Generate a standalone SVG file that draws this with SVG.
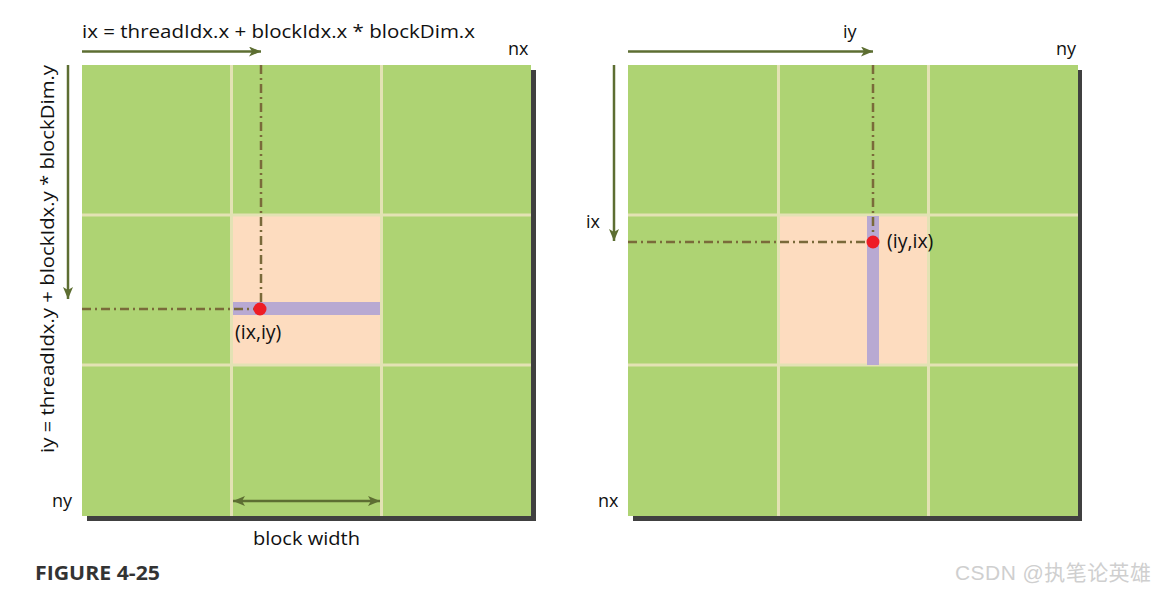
<svg xmlns="http://www.w3.org/2000/svg" width="1155" height="592" viewBox="0 0 1155 592">
<defs>
<marker id="ah" viewBox="0 0 12 10" refX="12" refY="5" markerWidth="12" markerHeight="10" markerUnits="userSpaceOnUse" orient="auto-start-reverse">
<path d="M0,0 L12,5 L0,10 L3,5 Z" fill="#5d6e32"/>
</marker>
<style>
.t{font-family:"Open Sans","Noto Sans",sans-serif;font-size:18px;fill:#111}
.pt{font-size:19.5px}
.cell{fill:#aed373}
.shadow{fill:#404040}
.gl{stroke:#e3e2b4;stroke-width:3}
.hl{fill:#fddcbf}
.bar{fill:#b8a9d2}
.dot{fill:#ee1c25}
.arr{stroke:#5d6e32;stroke-width:2.5;fill:none}
.dd{stroke:#7a6a3a;stroke-width:2.5;fill:none;stroke-dasharray:9 4 2 4}
</style>
</defs>
<rect width="1155" height="592" fill="#fff"/>

<g id="grid-left">
<rect class="shadow" x="87" y="70" width="449" height="451"/>
<rect class="cell" x="82" y="65" width="449" height="451"/>
<rect class="hl" x="233" y="216" width="148" height="149"/>
<line class="gl" x1="231.5" y1="65" x2="231.5" y2="516"/>
<line class="gl" x1="381.5" y1="65" x2="381.5" y2="516"/>
<line class="gl" x1="82" y1="215" x2="531" y2="215"/>
<line class="gl" x1="82" y1="365" x2="531" y2="365"/>
<rect class="bar" x="233" y="302" width="147" height="13"/>
</g>

<g id="grid-right">
<rect class="shadow" x="633" y="70" width="449" height="451"/>
<rect class="cell" x="628" y="65" width="450" height="451"/>
<rect class="hl" x="779" y="216" width="149" height="149"/>
<line class="gl" x1="778.5" y1="65" x2="778.5" y2="516"/>
<line class="gl" x1="928.5" y1="65" x2="928.5" y2="516"/>
<line class="gl" x1="628" y1="215" x2="1078" y2="215"/>
<line class="gl" x1="628" y1="365" x2="1078" y2="365"/>
<rect class="bar" x="867" y="216" width="12" height="149"/>
</g>

<g id="connectors">
<line class="arr" x1="82" y1="51.5" x2="261" y2="51.5" marker-end="url(#ah)"/>
<line class="arr" x1="68" y1="65" x2="68" y2="299" marker-end="url(#ah)"/>
<line class="arr" x1="233" y1="501" x2="380" y2="501" marker-start="url(#ah)" marker-end="url(#ah)"/>
<line class="dd" x1="261" y1="65" x2="261" y2="302"/>
<line class="dd" x1="82" y1="309" x2="254" y2="309"/>
<line class="arr" x1="628" y1="51.5" x2="873" y2="51.5" marker-end="url(#ah)"/>
<line class="arr" x1="614" y1="65" x2="614" y2="241" marker-end="url(#ah)"/>
<line class="dd" x1="873" y1="65" x2="873" y2="235"/>
<line class="dd" x1="628" y1="242" x2="866" y2="242"/>
</g>

<g id="points">
<circle class="dot" cx="260" cy="309" r="6.5"/>
<circle class="dot" cx="873" cy="242" r="6.5"/>
</g>

<g id="labels">
<text class="t" x="82" y="38" textLength="393" lengthAdjust="spacingAndGlyphs">ix = threadIdx.x + blockIdx.x * blockDim.x</text>
<text class="t" x="508" y="55">nx</text>
<text class="t" transform="translate(54,453) rotate(-90)" textLength="388" lengthAdjust="spacingAndGlyphs">iy = threadIdx.y + blockIdx.y * blockDim.y</text>
<text class="t pt" x="235" y="339">(ix,iy)</text>
<text class="t" x="52" y="507">ny</text>
<text class="t" x="253" y="545" textLength="107" lengthAdjust="spacingAndGlyphs">block width</text>
<text class="t" x="843" y="38">iy</text>
<text class="t" x="1056" y="55">ny</text>
<text class="t" x="586" y="228">ix</text>
<text class="t pt" x="887" y="248">(iy,ix)</text>
<text class="t" x="598" y="507">nx</text>
<text x="35" y="580" textLength="125" lengthAdjust="spacingAndGlyphs" style="font-family:'Open Sans','Noto Sans',sans-serif;font-size:19px;font-weight:bold;fill:#333">FIGURE 4-25</text>
<text x="955" y="580" textLength="196" style="font-family:'Liberation Sans','Noto Sans CJK SC',sans-serif;font-size:21px;fill:#cfcfcf">CSDN @执笔论英雄</text>
</g>
</svg>
